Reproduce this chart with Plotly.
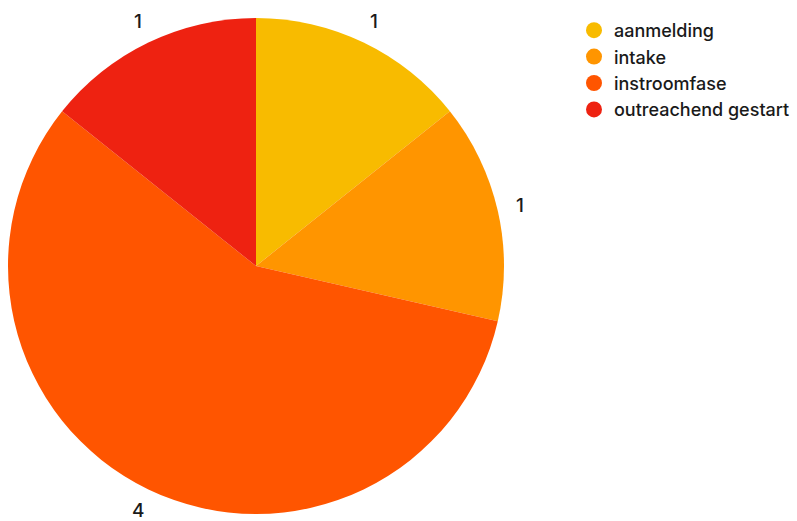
import math
import plotly.graph_objects as go

# Stages and counts
categories = ["aanmelding", "intake", "instroomfase", "outreachend gestart"]
values = [1, 1, 4, 1]
colors = ["#F8BB00", "#FF9500", "#FF5500", "#EE2211"]

W, H = 797, 521
FONT = "Inter"
TEXT_COLOR = "#1a1a1a"

# Pie placement in pixels
cx, cy, r = 256, 266, 248
dom_x = [(cx - r) / W, (cx + r) / W]
dom_y = [1 - (cy + r) / H, 1 - (cy - r) / H]

fig = go.Figure()
fig.add_trace(go.Pie(
    labels=categories,
    values=values,
    marker=dict(colors=colors, line=dict(width=0)),
    sort=False,
    direction="clockwise",
    rotation=0,
    textinfo="none",
    hoverinfo="label+value",
    showlegend=False,
    domain=dict(x=dom_x, y=dom_y),
))

# Value labels placed just outside each slice, at the slice's mid angle
total = sum(values)
cum = 0
label_r = r + 23
for v in values:
    mid = (cum + v / 2) / total * 2 * math.pi
    cum += v
    px = cx + label_r * math.sin(mid)
    py = cy - label_r * math.cos(mid)
    fig.add_annotation(
        x=px / W, y=1 - py / H, xref="paper", yref="paper",
        text=str(v), showarrow=False,
        font=dict(family=FONT, size=19, color=TEXT_COLOR, weight=500),
        xanchor="center", yanchor="middle",
    )

# Legend entries with round markers
for name, col in zip(categories, colors):
    fig.add_trace(go.Scatter(
        x=[None], y=[None], mode="markers", name=name,
        marker=dict(symbol="circle", size=18, color=col),
        hoverinfo="skip",
    ))

fig.update_layout(
    width=W, height=H,
    margin=dict(l=0, r=0, t=0, b=0),
    paper_bgcolor="white",
    plot_bgcolor="white",
    xaxis=dict(visible=False),
    yaxis=dict(visible=False),
    legend=dict(
        x=574 / W, y=1 - 12 / H, xanchor="left", yanchor="top",
        font=dict(family=FONT, size=18, color=TEXT_COLOR, weight=500),
        itemsizing="trace",
        tracegroupgap=0,
        bgcolor="rgba(0,0,0,0)",
    ),
    font=dict(family=FONT),
)

fig.write_html("out.html")
